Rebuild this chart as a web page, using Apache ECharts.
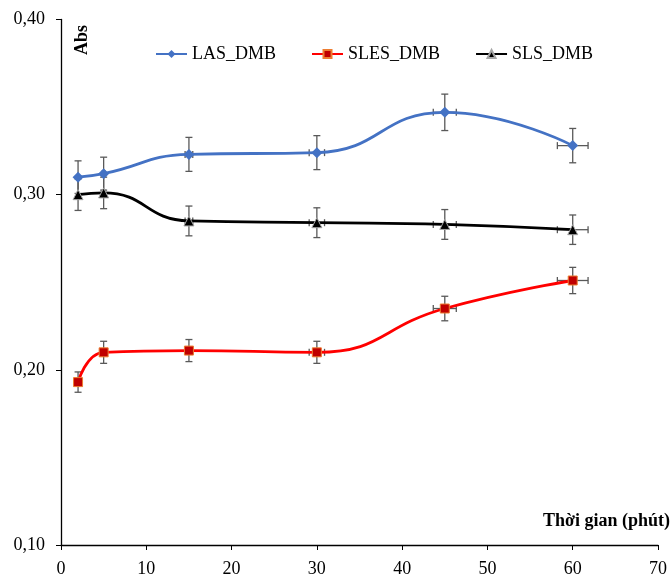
<!DOCTYPE html>
<html>
<head>
<meta charset="utf-8">
<script src="https://cdn.jsdelivr.net/npm/echarts@6/dist/echarts.min.js"></script>
<style>
html,body{margin:0;padding:0;background:#fff;}
#chart{width:672px;height:578px;}
</style>
</head>
<body>
<div id="chart"></div>
<script>
var times = [2, 5, 15, 30, 45, 60];
var lasValues = [0.310, 0.312, 0.323, 0.324, 0.347, 0.328];
var slesValues = [0.193, 0.210, 0.211, 0.210, 0.235, 0.251];
var slsValues = [0.300, 0.301, 0.285, 0.284, 0.283, 0.280];
var timeErr = [0.06, 0.15, 0.45, 0.9, 1.35, 1.8];
var lasErr = [0.0093, 0.0094, 0.0097, 0.0097, 0.0104, 0.0098];
var slesErr = [0.0058, 0.0063, 0.0063, 0.0063, 0.0070, 0.0075];
var slsErr = [0.0090, 0.0090, 0.0085, 0.0085, 0.0085, 0.0084];

var serif = 'Liberation Serif';

function pairs(vals) {
    return times.map(function (t, i) { return [t, vals[i]]; });
}
function errData(vals, errs) {
    return times.map(function (t, i) { return [t, vals[i], timeErr[i], errs[i]]; });
}
function renderErr(params, api) {
    var x = api.value(0), y = api.value(1), xe = api.value(2), ye = api.value(3);
    var top = api.coord([x, y + ye]);
    var bot = api.coord([x, y - ye]);
    var lft = api.coord([x - xe, y]);
    var rgt = api.coord([x + xe, y]);
    var st = {stroke: '#595959', lineWidth: 1.3};
    var c = 3.5;
    return {
        type: 'group',
        children: [
            {type: 'line', shape: {x1: top[0], y1: top[1], x2: bot[0], y2: bot[1]}, style: st},
            {type: 'line', shape: {x1: top[0] - c, y1: top[1], x2: top[0] + c, y2: top[1]}, style: st},
            {type: 'line', shape: {x1: bot[0] - c, y1: bot[1], x2: bot[0] + c, y2: bot[1]}, style: st},
            {type: 'line', shape: {x1: lft[0], y1: lft[1], x2: rgt[0], y2: rgt[1]}, style: st},
            {type: 'line', shape: {x1: lft[0], y1: lft[1] - c, x2: lft[0], y2: lft[1] + c}, style: st},
            {type: 'line', shape: {x1: rgt[0], y1: rgt[1] - c, x2: rgt[0], y2: rgt[1] + c}, style: st}
        ]
    };
}
function errSeries(vals, errs) {
    return {
        type: 'custom',
        renderItem: renderErr,
        data: errData(vals, errs),
        z: 1,
        silent: true,
        encode: {x: 0, y: 1}
    };
}

var chart = echarts.init(document.getElementById('chart'));
chart.setOption({
    animation: false,
    grid: {left: 61, right: 14, top: 19.5, bottom: 31},
    legend: {
        left: 150,
        top: 40,
        itemWidth: 31,
        itemHeight: 10,
        itemGap: 35,
        textStyle: {fontFamily: serif, fontSize: 18, color: '#000'},
        data: ['LAS_DMB', 'SLES_DMB', 'SLS_DMB']
    },
    xAxis: {
        type: 'value',
        min: 0, max: 70, interval: 10,
        axisLine: {lineStyle: {color: '#000', width: 1.3}},
        axisTick: {length: 5, lineStyle: {color: '#000'}},
        axisLabel: {fontFamily: serif, fontSize: 18, color: '#000', margin: 15},
        splitLine: {show: false}
    },
    yAxis: {
        type: 'value',
        min: 0.1, max: 0.4, interval: 0.1,
        axisLine: {show: true, lineStyle: {color: '#000', width: 1.3}},
        axisTick: {show: true, length: 5, lineStyle: {color: '#000'}},
        axisLabel: {
            fontFamily: serif, fontSize: 18, color: '#000', margin: 16,
            formatter: function (v) { return v.toFixed(2).replace('.', ','); }
        },
        splitLine: {show: false}
    },
    graphic: [
        {type: 'text', x: 670, y: 521, style: {text: 'Thời gian (phút)', fontFamily: serif, fontSize: 18, fontWeight: 'bold', fill: '#000', align: 'right', verticalAlign: 'middle'}},
        {type: 'text', x: 82, y: 40, rotation: Math.PI / 2, style: {text: 'Abs', fontFamily: serif, fontSize: 18, fontWeight: 'bold', fill: '#000', align: 'center', verticalAlign: 'middle'}}
    ],
    series: [
        errSeries(lasValues, lasErr),
        errSeries(slesValues, slesErr),
        errSeries(slsValues, slsErr),
        {
            name: 'LAS_DMB', type: 'line', smooth: 0.5, z: 3,
            data: pairs(lasValues),
            symbol: 'diamond', symbolSize: 11,
            lineStyle: {color: '#4472C4', width: 2.8},
            itemStyle: {color: '#4472C4'}
        },
        {
            name: 'SLES_DMB', type: 'line', smooth: 0.5, z: 3,
            data: pairs(slesValues),
            symbol: 'rect', symbolSize: 9,
            lineStyle: {color: '#FF0000', width: 2.8},
            itemStyle: {color: '#C00000', borderColor: '#ED7D31', borderWidth: 1}
        },
        {
            name: 'SLS_DMB', type: 'line', smooth: 0.5, z: 3,
            data: pairs(slsValues),
            symbol: 'triangle', symbolSize: 10,
            lineStyle: {color: '#000000', width: 2.8},
            itemStyle: {color: '#000000', borderColor: '#A6A6A6', borderWidth: 1}
        }
    ]
});
</script>
</body>
</html>
